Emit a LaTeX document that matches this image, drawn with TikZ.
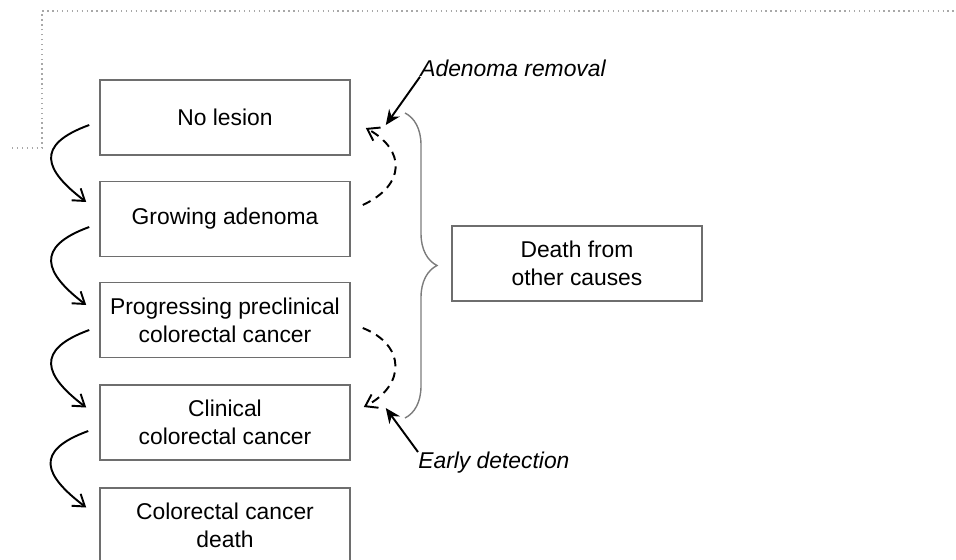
\documentclass[tikz,border=0pt]{standalone}
\usepackage{fontspec}
\setmainfont{Liberation Sans}
\usepackage{tikz}
\usetikzlibrary{arrows.meta,decorations.pathreplacing}
\definecolor{frame}{HTML}{6E6E6E}
\definecolor{dots}{HTML}{A8A8A8}
\tikzset{
  box/.style={rectangle,draw=frame,line width=0.9pt,minimum width=5cm,
    minimum height=1.5cm,align=center,inner sep=2pt,font=\fontsize{13}{16}\selectfont},
  lbl/.style={inner sep=0pt,anchor=west,font=\fontsize{13}{15}\selectfont\itshape},
  fl/.style={-{Straight Barb[length=2.2mm,width=3mm]},line width=1.1pt},
  back/.style={fl,dash pattern=on 5pt off 3.5pt},
  hit/.style={-{Stealth[length=3mm,width=2.6mm]},line width=1.1pt},
}

\begin{document}
\begin{tikzpicture}[x=0.02cm,y=-0.02cm]
  \useasboundingbox (0,0) rectangle (956,559);
  \draw[dots,dotted,line width=0.8pt] (12,148) -- (42,148) -- (42,11) -- (960,11);
  % states
  \node[box] (none) at (225,117.5) {No lesion};
  \node[box] (aden) at (225,219) {Growing adenoma};
  \node[box] (prog) at (225,320) {Progressing preclinical\\colorectal cancer};
  \node[box] (clin) at (225,422.5) {Clinical\\colorectal cancer};
  \node[box] (crcd) at (225,525.5) {Colorectal cancer\\death};
  \node[box] (other) at (577,263.5) {Death from\\other causes};
  % progression
  \draw[fl] ([shift={(-10,7.5)}]none.west) .. controls +(-55,20) and +(-42,-32) .. ([shift={(-13,-17)}]aden.west);
  \draw[fl] ([shift={(-10,8)}]aden.west) .. controls +(-55,20) and +(-42,-32) .. ([shift={(-13,-15)}]prog.west);
  \draw[fl] ([shift={(-10,10)}]prog.west) .. controls +(-55,20) and +(-42,-32) .. ([shift={(-13,-15)}]clin.west);
  \draw[fl] ([shift={(-11,8.5)}]clin.west) .. controls +(-55,20) and +(-42,-32) .. ([shift={(-13,-18)}]crcd.west);
  % interventions
  \draw[back] ([shift={(12,-14)}]aden.east) .. controls +(43,-20) and +(40,22) .. ([shift={(15,10.5)}]none.east);
  \draw[back] ([shift={(12,8)}]prog.east) .. controls +(43,17) and +(42,-22) .. ([shift={(13,-15.5)}]clin.east);
  \node[lbl] (removal) at (420,68) {Adenoma removal};
  \node[lbl] (early) at (418,463) {Early detection};
  \draw[hit] (removal.south west) -- ([shift={(35,7.5)}]none.east);
  \draw[hit] (early.north west) -- ([shift={(35,-14.5)}]clin.east);
  % other causes
  \coordinate (btop) at (405,113);
  \coordinate (bbot) at (405,418);
  \draw[frame!90,line width=0.8pt,decorate,decoration={brace,amplitude=0.64cm}] (btop) -- (bbot);
\end{tikzpicture}
\end{document}
